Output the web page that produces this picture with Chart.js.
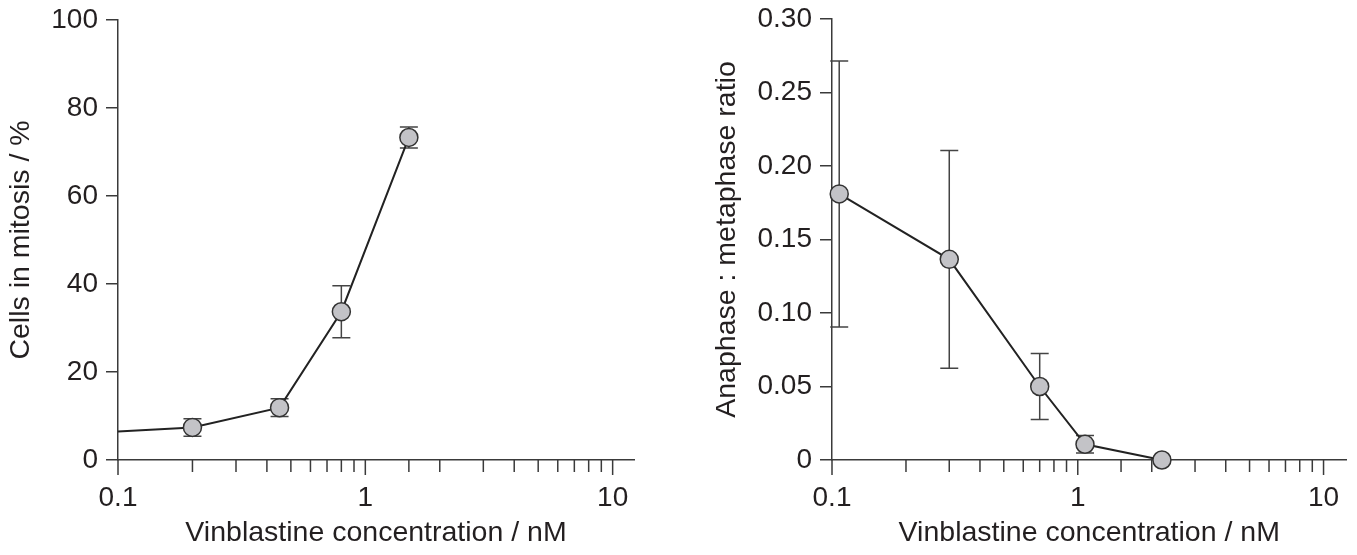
<!DOCTYPE html>
<html>
<head>
<meta charset="utf-8">
<script src="https://cdn.jsdelivr.net/npm/chart.js@4.4.1/dist/chart.umd.min.js"></script>
<style>
  html, body { margin: 0; padding: 0; background: #fff; }
  .box { position: absolute; top: 0; height: 555px; }
</style>
</head>
<body>
<div class="box" style="left:0;width:678px"><canvas id="left" width="678" height="555"></canvas></div>
<div class="box" style="left:678px;width:679px"><canvas id="right" width="679" height="555"></canvas></div>
<script>
// ---- data ----
const concLeft = [0.1, 0.2, 0.45, 0.8, 1.5];        // nM, first = control at axis
const mitosisPct = [6.5, 7.4, 11.9, 33.7, 73.3];
const mitosisErr = [0, 2.0, 2.0, 5.9, 2.4];
const concRight = [0.107, 0.3, 0.7, 1.07, 2.2];
const anaMetaRatio = [0.181, 0.1365, 0.050, 0.0107, 0];
const anaMetaErr = [0.0905, 0.074, 0.0225, 0.006, 0];
const majorX = [0.1, 1, 10];
const xTitle = "Vinblastine concentration / nM";

const FONT = "'Liberation Sans', Arial, sans-serif";
const TXT = "#231f20";
const AXIS = "#3a3a3a";

// error bars, drawn under the markers
const errorBars = {
  id: "errorBars",
  beforeDatasetsDraw(chart, args, opts) {
    const xs = chart.scales.x, ys = chart.scales.y, ctx = chart.ctx;
    const data = chart.data.datasets[0].data;
    ctx.save();
    ctx.strokeStyle = "#444";
    ctx.lineWidth = 1.5;
    opts.err.forEach((e, i) => {
      if (!e) return;
      const px = xs.getPixelForValue(data[i].x);
      const hi = ys.getPixelForValue(data[i].y + e);
      const lo = ys.getPixelForValue(data[i].y - e);
      ctx.beginPath();
      ctx.moveTo(px, hi); ctx.lineTo(px, lo);
      ctx.moveTo(px - 9, hi); ctx.lineTo(px + 9, hi);
      ctx.moveTo(px - 9, lo); ctx.lineTo(px + 9, lo);
      ctx.stroke();
    });
    ctx.restore();
  }
};

// log axis tick marks: long at decades, short in between
const logTicks = {
  id: "logTicks",
  afterDraw(chart) {
    const xs = chart.scales.x, ctx = chart.ctx, y0 = xs.top;
    ctx.save();
    ctx.strokeStyle = AXIS;
    ctx.lineWidth = 1.5;
    xs.ticks.forEach(t => {
      if (t.value > 10.001) return;
      const px = xs.getPixelForValue(t.value);
      const len = majorX.some(m => Math.abs(m - t.value) < 1e-6) ? 15 : 12;
      ctx.beginPath(); ctx.moveTo(px, y0); ctx.lineTo(px, y0 + len); ctx.stroke();
    });
    ctx.restore();
  }
};

function makeChart(id, xs, ys, err, yOpts, pad, xMax, yTitle, yTitlePad, yWidth) {
  return new Chart(document.getElementById(id), {
    type: "line",
    data: {
      datasets: [{
        data: xs.map((x, i) => ({ x: x, y: ys[i] })),
        borderColor: "#222",
        borderWidth: 2,
        tension: 0,
        pointRadius: xs.map((x, i) => (err[i] || ys[i] === 0 || i > 0) ? 9 : 0),
        pointBackgroundColor: "#c3c3c7",
        pointBorderColor: "#333",
        pointBorderWidth: 1.5,
        clip: false
      }]
    },
    options: {
      responsive: false,
      animation: false,
      layout: { padding: pad },
      plugins: { legend: { display: false }, tooltip: { enabled: false }, errorBars: { err: err } },
      scales: {
        x: {
          type: "logarithmic",
          min: 0.1, max: xMax,
          grid: { display: false },
          border: { display: true, color: AXIS, width: 1.5 },
          afterFit: s => { s.height = 95; s.paddingLeft = 0; s.paddingRight = 0; },
          ticks: {
            autoSkip: false, maxRotation: 0, padding: 13,
            color: TXT, font: { family: FONT, size: 28 },
            callback: v => majorX.some(m => Math.abs(m - v) < 1e-6) ? String(v) : ""
          },
          title: { display: true, text: xTitle, color: TXT, font: { family: FONT, size: 28.5 }, padding: { top: 0, bottom: 5 } }
        },
        y: Object.assign({
          grid: { display: true, drawOnChartArea: false, tickLength: 12, color: AXIS, lineWidth: 1.5 },
          border: { display: true, color: AXIS, width: 1.5 },
          afterFit: s => { s.width = yWidth; s.paddingTop = 0; s.paddingBottom = 0; },
          title: { display: true, text: yTitle, color: TXT, font: { family: FONT, size: 28.5 }, padding: { top: yTitlePad, bottom: 0 } }
        }, yOpts)
      }
    },
    plugins: [errorBars, logTicks]
  });
}

makeChart("left", concLeft, mitosisPct, mitosisErr, {
  min: 0, max: 100,
  ticks: { stepSize: 20, padding: 8, color: TXT, font: { family: FONT, size: 28 } }
}, { left: 0, top: 20, right: 678 - 634, bottom: 0 }, 12.2, "Cells in mitosis / %", 4, 118);

makeChart("right", concRight, anaMetaRatio, anaMetaErr, {
  min: 0, max: 0.3,
  ticks: { stepSize: 0.05, padding: 8, color: TXT, font: { family: FONT, size: 28 },
    callback: v => v === 0 ? "0" : v.toFixed(2) }
}, { left: 0, top: 19, right: 1357 - 1348, bottom: 0 }, 12.4, "Anaphase : metaphase ratio", 32, 154);
</script>
</body>
</html>
